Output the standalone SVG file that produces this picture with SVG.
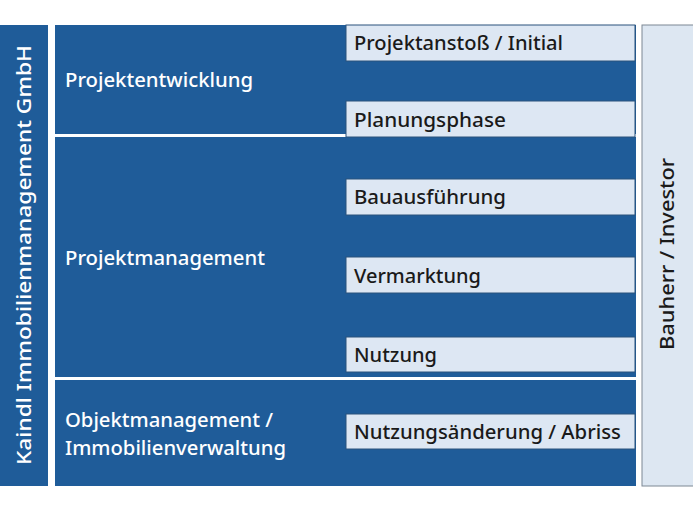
<svg xmlns="http://www.w3.org/2000/svg" width="693" height="519" viewBox="0 0 693 519">
<style>
.blue{fill:#1F5C99;}
.box{fill:#DDE7F3;stroke:#2A527C;stroke-width:1;}
.wt{fill:#FFFFFF;font-family:"Noto Sans","Liberation Sans",sans-serif;font-size:19px;font-weight:500;}
.dt{fill:#1A1A1A;font-family:"Noto Sans","Liberation Sans",sans-serif;font-size:19px;font-weight:500;}
.vt{font-family:"Noto Sans","Liberation Sans",sans-serif;font-size:20px;font-weight:500;text-anchor:middle;dominant-baseline:central;}
</style>
<rect width="693" height="519" fill="#FFFFFF"/>
<g id="company">
<rect class="blue" x="0" y="25" width="48" height="461"/>
<text class="vt" fill="#FFFFFF" transform="translate(23,255) rotate(-90)" textLength="420" lengthAdjust="spacingAndGlyphs">Kaindl Immobilienmanagement GmbH</text>
</g>
<g id="projektentwicklung">
<rect class="blue" x="55" y="25" width="581" height="109"/>
<text class="wt" x="65" y="87" textLength="188" lengthAdjust="spacingAndGlyphs">Projektentwicklung</text>
</g>
<g id="projektmanagement">
<rect class="blue" x="55" y="137" width="581" height="240"/>
<text class="wt" x="65" y="265" textLength="200" lengthAdjust="spacingAndGlyphs">Projektmanagement</text>
</g>
<g id="objektmanagement">
<rect class="blue" x="55" y="380" width="581" height="106"/>
<text class="wt" x="65" y="427" textLength="208" lengthAdjust="spacingAndGlyphs">Objektmanagement /</text>
<text class="wt" x="65" y="455" textLength="221" lengthAdjust="spacingAndGlyphs">Immobilienverwaltung</text>
</g>
<g id="projektanstoss">
<rect class="box" x="346" y="25" width="289" height="36"/>
<text class="dt" x="354" y="50" textLength="209" lengthAdjust="spacingAndGlyphs">Projektanstoß / Initial</text>
</g>
<g id="planungsphase">
<rect class="box" x="346" y="101" width="289" height="36"/>
<text class="dt" x="354" y="127" textLength="152" lengthAdjust="spacingAndGlyphs">Planungsphase</text>
</g>
<g id="bauausfuehrung">
<rect class="box" x="346" y="179" width="289" height="36"/>
<text class="dt" x="354" y="204" textLength="152" lengthAdjust="spacingAndGlyphs">Bauausführung</text>
</g>
<g id="vermarktung">
<rect class="box" x="346" y="257" width="289" height="36"/>
<text class="dt" x="354" y="283" textLength="127" lengthAdjust="spacingAndGlyphs">Vermarktung</text>
</g>
<g id="nutzung">
<rect class="box" x="346" y="337" width="289" height="35"/>
<text class="dt" x="354" y="362" textLength="83" lengthAdjust="spacingAndGlyphs">Nutzung</text>
</g>
<g id="nutzungsaenderung">
<rect class="box" x="346" y="414" width="289" height="35"/>
<text class="dt" x="354" y="439" textLength="267" lengthAdjust="spacingAndGlyphs">Nutzungsänderung / Abriss</text>
</g>
<g id="bauherr">
<rect x="642" y="25" width="60" height="461" fill="#DDE7F2" stroke="#7D8894" stroke-width="1"/>
<text class="vt" fill="#1A1A1A" transform="translate(666,254) rotate(-90)" textLength="192" lengthAdjust="spacingAndGlyphs">Bauherr / Investor</text>
</g>
<g id="connectors"></g>
</svg>
